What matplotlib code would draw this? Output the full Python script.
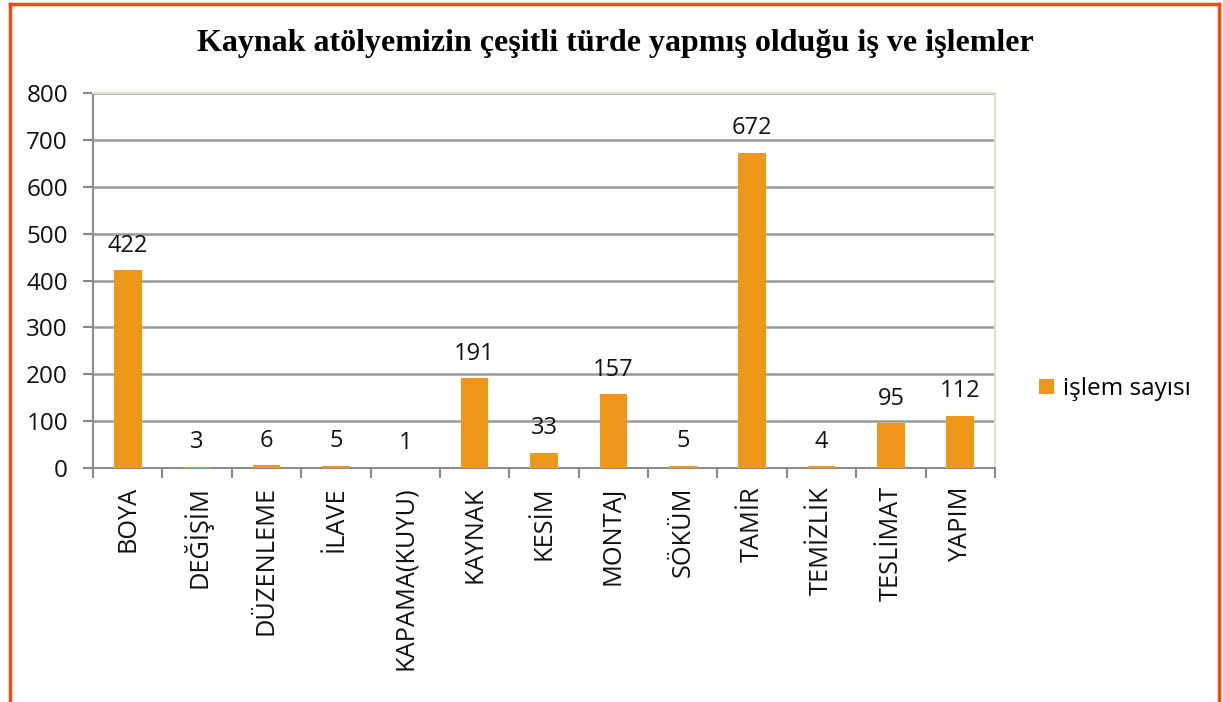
import numpy as np
import matplotlib
matplotlib.use("Agg")
import matplotlib.pyplot as plt
from matplotlib.lines import Line2D

# chart data
categories = ["BOYA", "DEĞİŞİM", "DÜZENLEME", "İLAVE", "KAPAMA(KUYU)", "KAYNAK",
              "KESİM", "MONTAJ", "SÖKÜM", "TAMİR", "TEMİZLİK", "TESLİMAT", "YAPIM"]
counts = [422, 3, 6, 5, 1, 191, 33, 157, 5, 672, 4, 95, 112]
yticks = [0, 100, 200, 300, 400, 500, 600, 700, 800]
series_name = "işlem sayısı"
title = "Kaynak atölyemizin çeşitli türde yapmış olduğu iş ve işlemler"

bar_color = "#F0961A"
grid_color = "#9A9A9A"
sans = ["Open Sans", "DejaVu Sans"]

plt.rcParams['font.family'] = sans

fig = plt.figure(figsize=(12.23, 7.02), dpi=100)
ax = fig.add_axes([93 / 1223, 1 - 468 / 702, (995 - 93) / 1223, (468 - 93) / 702])

x = np.arange(len(categories))
bars = ax.bar(x, counts, width=0.40, color=bar_color, zorder=3)

for xi, v in zip(x, counts):
    ax.annotate(str(v), (xi, v), xytext=(0, 9), textcoords="offset points",
                ha="center", va="bottom", fontsize=17, color="#111111")

ax.set_xlim(-0.5, len(categories) - 0.5)
ax.set_ylim(0, 800)
ax.set_yticks(yticks)
ax.set_xticks(x)
ax.set_xticklabels(categories, rotation=90, va="top")
ax.set_xticks(np.arange(-0.5, len(categories)), minor=True)
ax.tick_params(axis="x", which="major", length=0, pad=13, labelsize=18.3,
               labelcolor="#111111")
ax.tick_params(axis="x", which="minor", length=7, color="#888888", width=1.5)
ax.tick_params(axis="y", length=7, color="#888888", width=1.5, pad=11,
               labelsize=17.5, labelcolor="#111111")

ax.yaxis.grid(True, color=grid_color, linewidth=1.8, zorder=0)
ax.set_axisbelow(True)
for side in ["left", "bottom"]:
    ax.spines[side].set_color("#8C8C8C")
    ax.spines[side].set_linewidth(1.5)
for side in ["top", "right"]:
    ax.spines[side].set_color("#E6DFC8")
    ax.spines[side].set_linewidth(1.5)

ax.legend([bars], [series_name], loc="center left", bbox_to_anchor=(1.025, 0.21),
          frameon=False, fontsize=17.5, handlelength=0.6, handleheight=0.6,
          handletextpad=0.35)

fig.text(0.503, 1 - 43 / 702, title, ha="center", va="center", fontsize=23,
         fontweight="bold", family=["Liberation Serif", "DejaVu Serif"])

# orange frame (no bottom edge, as in the reference)
fc = "#FF4411"
fig.add_artist(Line2D([10 / 1223, 10 / 1223], [0, 1 - 4 / 702], color=fc, lw=2.5,
                      transform=fig.transFigure))
fig.add_artist(Line2D([10 / 1223, 1219 / 1223], [1 - 4 / 702, 1 - 4 / 702], color=fc,
                      lw=2.5, transform=fig.transFigure))
fig.add_artist(Line2D([1219 / 1223, 1219 / 1223], [0, 1 - 4 / 702], color=fc, lw=2.5,
                      transform=fig.transFigure))

fig.savefig("out.png", dpi=100)
